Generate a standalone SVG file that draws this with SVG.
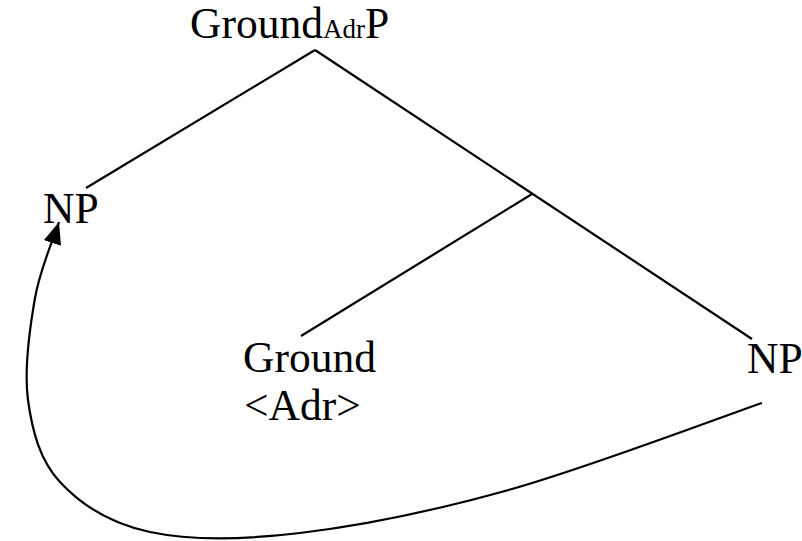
<svg xmlns="http://www.w3.org/2000/svg" width="802" height="541" viewBox="0 0 802 541">
<style>
text{font-family:"Liberation Serif","Times New Roman","DejaVu Serif",serif;fill:#000;font-size:43.5px}
.sub{font-size:27px}
line,path{stroke:#000;stroke-width:2.2;fill:none}
</style>
<defs>
<marker id="ah" markerUnits="userSpaceOnUse" markerWidth="24" markerHeight="20" refX="22" refY="9" orient="auto">
<path d="M0,0 L22,9 L0,18 Z" style="fill:#000;stroke:none"/>
</marker>
</defs>
<rect width="802" height="541" fill="#fff"/>
<g id="connectors">
<line x1="315" y1="50" x2="86" y2="188"/>
<line x1="315" y1="50" x2="752" y2="339"/>
<line x1="532" y1="194" x2="301" y2="336"/>
<path d="M762,403 C720.3,417.3 589,467.3 512,489 C435,510.7 360.3,525.8 300,533 C239.7,540.2 190,540.5 150,532 C110,523.5 80.3,504 60,482 C39.7,460 32.2,430.7 28,400 C23.8,369.3 29.8,327.7 35,298 C40.2,268.3 55,234.7 59,222" marker-end="url(#ah)"/>
</g>
<g id="n-root"><text x="190" y="38">Ground<tspan class="sub">Adr</tspan>P</text></g>
<g id="n-np1"><text x="43" y="223">NP</text></g>
<g id="n-ground"><text x="243" y="372">Ground</text><text x="244" y="420">&lt;Adr&gt;</text></g>
<g id="n-np2"><text x="747" y="373">NP</text></g>
</svg>
